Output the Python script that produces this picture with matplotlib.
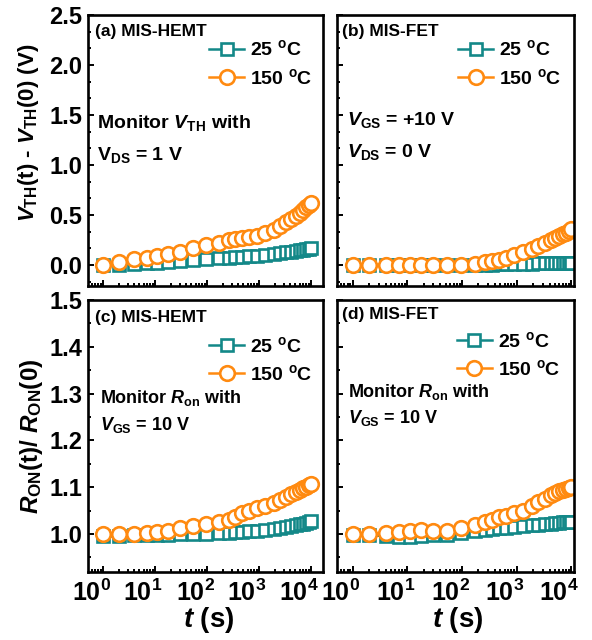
import matplotlib
matplotlib.use("Agg")
import matplotlib.pyplot as plt
import matplotlib.transforms as mtransforms
from matplotlib.ticker import LogLocator, MultipleLocator, NullFormatter

plt.rcParams['font.family'] = ['Liberation Sans', 'DejaVu Sans']
plt.rcParams['font.weight'] = 'bold'
plt.rcParams['mathtext.fontset'] = 'custom'
plt.rcParams['mathtext.rm'] = 'Liberation Sans:bold'
plt.rcParams['mathtext.it'] = 'Liberation Sans:italic:bold'
plt.rcParams['mathtext.bf'] = 'Liberation Sans:bold'
plt.rcParams['mathtext.sf'] = 'Liberation Sans:bold'
plt.rcParams['mathtext.default'] = 'it'

# ---------------- data ----------------
t = [1, 2, 4, 7, 11, 18, 30, 54, 95, 170, 260, 350, 470, 650, 900,
     1300, 1900, 2500, 3300, 4200, 5100, 6000, 7000, 8000, 9000, 10000]

a_25 = [0.00, 0.00, 0.01, 0.02, 0.02, 0.03, 0.04, 0.05, 0.06, 0.07, 0.075, 0.08, 0.085,
        0.09, 0.095, 0.10, 0.11, 0.12, 0.13, 0.135, 0.14, 0.15, 0.155, 0.16, 0.165, 0.17]
a_150 = [0.00, 0.03, 0.06, 0.07, 0.09, 0.11, 0.13, 0.17, 0.20, 0.22, 0.25, 0.26, 0.27,
         0.28, 0.29, 0.32, 0.35, 0.39, 0.43, 0.46, 0.49, 0.52, 0.55, 0.58, 0.60, 0.62]

b_25 = [0.00, 0.00, 0.00, 0.00, 0.00, 0.00, 0.00, 0.00, 0.00, 0.00, 0.005, 0.005, 0.01,
        0.01, 0.01, 0.015, 0.015, 0.02, 0.02, 0.02, 0.02, 0.02, 0.02, 0.02, 0.02, 0.02]
b_150 = [0.00, 0.00, 0.00, 0.00, 0.00, 0.00, 0.00, 0.00, 0.00, 0.01, 0.03, 0.04, 0.05,
         0.07, 0.10, 0.13, 0.16, 0.19, 0.22, 0.25, 0.27, 0.29, 0.31, 0.32, 0.34, 0.36]

c_25 = [0.995, 0.995, 0.997, 0.998, 0.999, 0.999, 1.000, 1.000, 1.001, 1.002, 1.003, 1.004,
        1.005, 1.006, 1.007, 1.009, 1.011, 1.013, 1.015, 1.017, 1.019, 1.021, 1.022, 1.024,
        1.025, 1.027]
c_150 = [1.000, 1.000, 1.000, 1.003, 1.004, 1.006, 1.012, 1.017, 1.021, 1.025, 1.030, 1.037,
         1.044, 1.050, 1.055, 1.060, 1.066, 1.073, 1.080, 1.085, 1.090, 1.094, 1.098, 1.101,
         1.105, 1.108]

d_25 = [0.998, 0.997, 0.996, 0.993, 0.994, 0.996, 0.997, 0.998, 1.002, 1.006, 1.009, 1.011,
        1.012, 1.014, 1.016, 1.018, 1.019, 1.020, 1.021, 1.022, 1.023, 1.024, 1.025, 1.025,
        1.026, 1.026]
d_150 = [1.000, 1.000, 1.003, 1.004, 1.007, 1.009, 1.006, 1.006, 1.014, 1.019, 1.026, 1.031,
         1.036, 1.039, 1.044, 1.050, 1.060, 1.068, 1.075, 1.083, 1.088, 1.091, 1.094, 1.097,
         1.099, 1.101]

series_labels = [r"25 $^{\rm o}$C", r"150 $^{\rm o}$C"]
panel_titles = ["(a) MIS-HEMT", "(b) MIS-FET", "(c) MIS-HEMT", "(d) MIS-FET"]
xticks = [1, 10, 100, 1000, 10000]
xtick_labels = [r"$\rm 10^{0}$", r"$\rm 10^{1}$", r"$\rm 10^{2}$", r"$\rm 10^{3}$", r"$\rm 10^{4}$"]
yticks_top = [0.0, 0.5, 1.0, 1.5, 2.0, 2.5]
yticks_top_labels = ["0.0", "0.5", "1.0", "1.5", "2.0", "2.5"]
yticks_bot = [1.0, 1.1, 1.2, 1.3, 1.4, 1.5]
yticks_bot_labels = ["1.0", "1.1", "1.2", "1.3", "1.4", "1.5"]

TEAL = "#138888"
ORANGE = "#ff8a10"

W, H = 592, 640
fig = plt.figure(figsize=(W / 100, H / 100), dpi=100)


def ax_px(l, r, top, bot):
    return fig.add_axes([l / W, 1 - bot / H, (r - l) / W, (bot - top) / H])


axA = ax_px(88, 323, 15, 286)
axB = ax_px(337, 574, 15, 286)
axC = ax_px(88, 323, 300, 572)
axD = ax_px(337, 574, 300, 572)

panels = [
    (axA, a_25, a_150, (10 ** -0.29, 10 ** 4.23), (-0.21, 2.5)),
    (axB, b_25, b_150, (10 ** -0.29, 10 ** 4.05), (-0.21, 2.5)),
    (axC, c_25, c_150, (10 ** -0.29, 10 ** 4.23), (0.919, 1.5)),
    (axD, d_25, d_150, (10 ** -0.29, 10 ** 4.05), (0.919, 1.5)),
]

lab_offset = mtransforms.ScaledTranslation(-12 / 100, -8 / 100, fig.dpi_scale_trans)

for i, (ax, y25, y150, xl, yl) in enumerate(panels):
    ax.plot(t, y25, '-s', color=TEAL, lw=1.8, ms=8, mfc='white', mec=TEAL, mew=1.9,
            label=series_labels[0])
    ax.plot(t, y150, '-o', color=ORANGE, lw=1.8, ms=10.5, mfc='white', mec=ORANGE, mew=1.9,
            label=series_labels[1])
    ax.set_xscale('log')
    ax.set_xlim(*xl)
    ax.set_ylim(*yl)
    for s in ax.spines.values():
        s.set_linewidth(1.9)
    ax.xaxis.set_minor_locator(LogLocator(base=10, subs=[2, 3, 4, 5, 6, 7, 8, 9], numticks=20))
    ax.xaxis.set_minor_formatter(NullFormatter())
    ax.set_xticks(xticks)
    ax.set_xticklabels([])
    if i < 2:
        ax.set_yticks(yticks_top)
        ax.yaxis.set_minor_locator(MultipleLocator(0.5 / 3))
        ylabs = yticks_top_labels
    else:
        ax.set_yticks(yticks_bot)
        ax.yaxis.set_minor_locator(MultipleLocator(0.05))
        ylabs = yticks_bot_labels
    if i in (0, 2):
        ax.set_yticklabels(ylabs)
    else:
        ax.set_yticklabels([])
    if i >= 2:
        trans = mtransforms.blended_transform_factory(ax.transData, ax.transAxes) + lab_offset
        for xv, lab in zip(xticks, xtick_labels):
            ax.text(xv, 0, lab, transform=trans, ha='center', va='top', fontsize=18,
                    clip_on=False)
    ax.tick_params(which='both', direction='in', top=False, right=False, width=1.4)
    ax.tick_params(which='major', length=4.5)
    ax.tick_params(which='minor', length=2.5)
    ax.tick_params(axis='y', which='major', labelsize=17, pad=4)

# panel titles
title_pos = [(0.030, 0.939), (0.022, 0.939), (0.030, 0.934), (0.022, 0.945)]
for ax, ttl, (x, y) in zip([axA, axB, axC, axD], panel_titles, title_pos):
    ax.text(x, y, ttl, transform=ax.transAxes, fontsize=12.5, fontweight='bold',
            ha='left', va='center')

# legends
leg_anchor = [(0.515, 0.91), (0.512, 0.91), (0.515, 0.868), (0.505, 0.886)]
for ax, anc in zip([axA, axB, axC, axD], leg_anchor):
    ax.legend(loc='upper left', bbox_to_anchor=anc, frameon=False, fontsize=14,
              handlelength=1.8, handletextpad=0.3, labelspacing=0.42, borderpad=0,
              borderaxespad=0)

# annotations
ann = 14
axA.text(0.038, 0.60, r"Monitor $V_{\rm TH}$ with", transform=axA.transAxes, fontsize=ann,
         ha='left', va='center', fontweight='bold')
axA.text(0.038, 0.483, r"V$_{\rm DS}$ = 1 V", transform=axA.transAxes, fontsize=ann,
         ha='left', va='center', fontweight='bold')
axB.text(0.042, 0.613, r"$V_{\rm GS}$ = +10 V", transform=axB.transAxes, fontsize=ann,
         ha='left', va='center', fontweight='bold')
axB.text(0.042, 0.494, r"$V_{\rm DS}$ = 0 V", transform=axB.transAxes, fontsize=ann,
         ha='left', va='center', fontweight='bold')
axC.text(0.05, 0.64, r"Monitor $R_{\rm on}$ with", transform=axC.transAxes, fontsize=13,
         ha='left', va='center', fontweight='bold')
axC.text(0.05, 0.54, r"$V_{\rm GS}$ = 10 V", transform=axC.transAxes, fontsize=13,
         ha='left', va='center', fontweight='bold')
axD.text(0.046, 0.66, r"Monitor $R_{\rm on}$ with", transform=axD.transAxes, fontsize=13,
         ha='left', va='center', fontweight='bold')
axD.text(0.046, 0.566, r"$V_{\rm GS}$ = 10 V", transform=axD.transAxes, fontsize=13,
         ha='left', va='center', fontweight='bold')

# axis labels
fig.text(29 / W, 1 - 133 / H, r"$V_{\rm TH}$(t) - $V_{\rm TH}$(0) (V)", rotation=90,
         ha='center', va='center', fontsize=16, fontweight='bold')
fig.text(32 / W, 1 - 436 / H, r"$R_{\rm ON}$(t)/ $R_{\rm ON}$(0)", rotation=90,
         ha='center', va='center', fontsize=17.5, fontweight='bold')
fig.text(209 / W, 1 - 620 / H, r"$t$ (s)", ha='center', va='center', fontsize=20,
         fontweight='bold')
fig.text(458 / W, 1 - 620 / H, r"$t$ (s)", ha='center', va='center', fontsize=20,
         fontweight='bold')

fig.savefig("out.png", dpi=100)
